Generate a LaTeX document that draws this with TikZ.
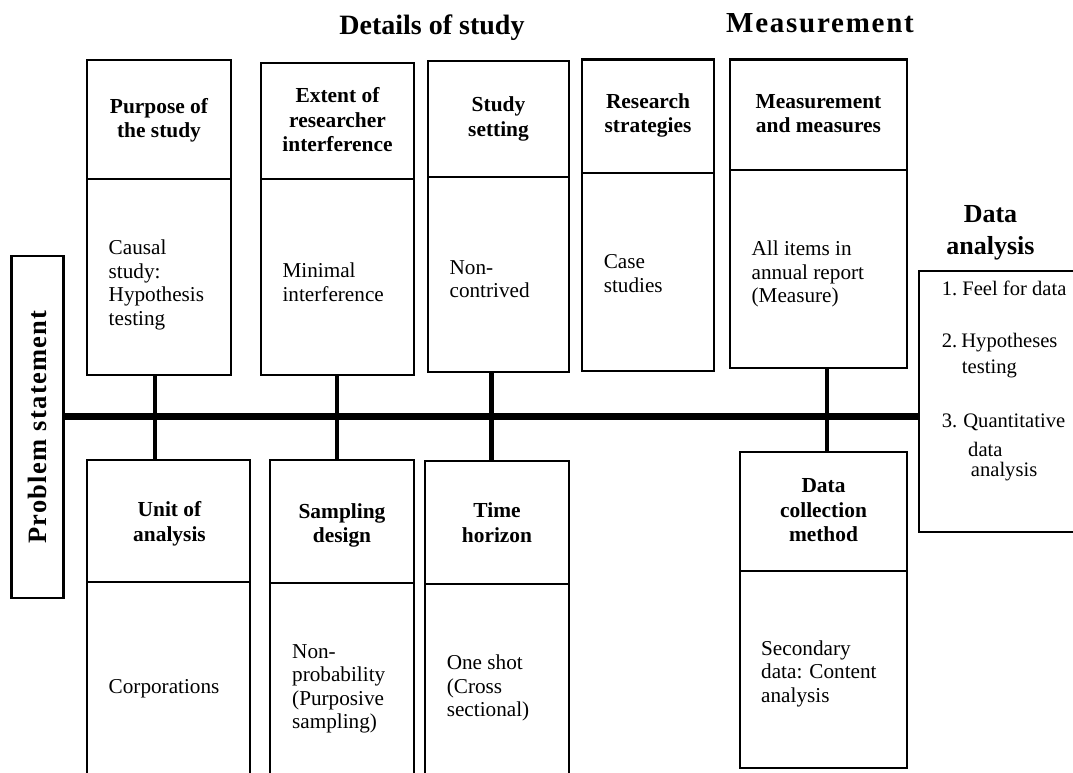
\documentclass[tikz,border=0pt]{standalone}
\usepackage{fontspec}
\setmainfont{Liberation Serif}
\newfontfamily\measfont[LetterSpace=6]{Liberation Serif}
\newfontfamily\psfont[LetterSpace=5]{Liberation Serif}
\begin{document}
\begin{tikzpicture}[x=1pt,y=-1pt,
  box/.style={draw, line width=2.8pt, rectangle, anchor=north west, inner sep=0pt, outer sep=0pt},
  hd/.style={font=\fontsize{21.4}{24.5}\selectfont\bfseries, align=center, anchor=base, inner sep=0pt},
  bd/.style={font=\fontsize{21.2}{23.5}\selectfont, align=left, anchor=base west, inner sep=0pt},
  da/.style={font=\fontsize{20.6}{23.5}\selectfont, anchor=base west, inner sep=0pt},
  conn/.style={line width=4.6pt},
  mainln/.style={line width=6.8pt},
  ttl/.style={font=\fontsize{28}{32}\selectfont\bfseries, anchor=base, inner sep=0pt}]
\useasboundingbox (0,0) rectangle (1073,772);
\clip (0,0) rectangle (1073,772);

% titles
\node[ttl] (tdetails) at (432,34) {Details of study};
\node[ttl, font=\fontsize{29}{32}\measfont\bfseries] (tmeas) at (820,32) {Measurement};
\node[font=\fontsize{26}{31.5}\selectfont\bfseries, align=center, anchor=base, inner sep=0pt] (tda) at (990.5,254) {Data\\analysis};

% problem statement
\node[box, minimum width=51.6pt, minimum height=342pt] (ps) at (11.7,256) {};
\node[rotate=90, font=\fontsize{26.5}{30}\psfont\bfseries, inner sep=0pt] (pst) at (ps.center) {Problem statement};

% top boxes
\node[box, minimum width=144pt, minimum height=119pt] (h1) at (87,60) {};
\node[box, minimum width=144pt, minimum height=196pt] (b1) at (87,179) {};
\node[box, minimum width=153pt, minimum height=116pt] (h2) at (261,63) {};
\node[box, minimum width=153pt, minimum height=196pt] (b2) at (261,179) {};
\node[box, minimum width=141pt, minimum height=116pt] (h3) at (428,61) {};
\node[box, minimum width=141pt, minimum height=195pt] (b3) at (428,177) {};
\node[box, minimum width=132pt, minimum height=113.5pt] (h4) at (582,59.5) {};
\node[box, minimum width=132pt, minimum height=198pt] (b4) at (582,173) {};
\node[box, minimum width=177pt, minimum height=110.5pt] (h5) at (730,59.5) {};
\node[box, minimum width=177pt, minimum height=198pt] (b5) at (730,170) {};

\node[hd] (ht1) at (159,137.7) {Purpose of\\the study};
\node[hd] (ht2) at (337.5,151.5) {Extent of\\researcher\\interference};
\node[hd] (ht3) at (498.5,136) {Study\\setting};
\node[hd] (ht4) at (648,132.6) {Research\\strategies};
\node[hd] (ht5) at (818.5,132.6) {Measurement\\and measures};

\node[bd] (t1) at (108.5,325.4) {Causal\\study:\\Hypothesis\\testing};
\node[bd] (t2) at (282.4,301.3) {Minimal\\interference};
\node[bd] (t3) at (449.4,297.9) {Non-\\contrived};
\node[bd] (t4) at (603.6,292.3) {Case\\studies};
\node[bd] (t5) at (751.4,302.5) {All items in\\annual report\\(Measure)};

% bottom boxes
\node[box, minimum width=163pt, minimum height=122pt] (g1) at (87,460) {};
\node[box, minimum width=163pt, minimum height=230pt] (c1) at (87,582) {};
\node[box, minimum width=144pt, minimum height=123pt] (g2) at (270,460) {};
\node[box, minimum width=144pt, minimum height=230pt] (c2) at (270,583) {};
\node[box, minimum width=144pt, minimum height=123pt] (g3) at (425,461) {};
\node[box, minimum width=144pt, minimum height=230pt] (c3) at (425,584) {};
\node[box, minimum width=167pt, minimum height=119pt] (g4) at (740,452) {};
\node[box, minimum width=167pt, minimum height=197pt] (c4) at (740,571) {};

\node[hd] (gt1) at (169.5,541.2) {Unit of\\analysis};
\node[hd] (gt2) at (342,542.5) {Sampling\\design};
\node[hd] (gt3) at (497,542) {Time\\horizon};
\node[hd] (gt4) at (823.5,541.5) {Data\\collection\\method};

\node[bd] (u1) at (108.5,693.4) {Corporations};
\node[bd] (u2) at (292,728.5) {Non-\\probability\\(Purposive\\sampling)};
\node[bd] (u3) at (446.6,716.8) {One shot\\(Cross\\sectional)};
\node[bd] (u4) at (761,702) {Secondary\\data: Content\\analysis};

% data analysis box
\node[box, minimum width=200pt, minimum height=261pt] (da) at (919,271) {};
\node[da] (d1) at (941.7,295.7) {1.\hspace{5pt}Feel for data};
\node[da] (d2) at (941.7,347) {2.\hspace{4pt}Hypotheses};
\node[da] (d2b) at (961.7,373) {testing};
\node[da] (d3) at (941.7,427) {3.\hspace{6pt}Quantitative};
\node[da] (d3b) at (968,456.7) {data};
\node[da] (d3c) at (970.7,476.5) {analysis};

% connectors
\coordinate (x1) at (155,0);
\coordinate (x2) at (337,0);
\coordinate (x3) at (491.5,0);
\coordinate (x4) at (827,0);
\coordinate (my) at (0,416.5);
\draw[mainln] (ps.east |- my) -- (da.west |- my);
\draw[conn] (b1.south -| x1) -- (g1.north -| x1);
\draw[conn] (b2.south -| x2) -- (g2.north -| x2);
\draw[conn] (b3.south -| x3) -- (g3.north -| x3);
\draw[conn] (b5.south -| x4) -- (g4.north -| x4);
\end{tikzpicture}
\end{document}
